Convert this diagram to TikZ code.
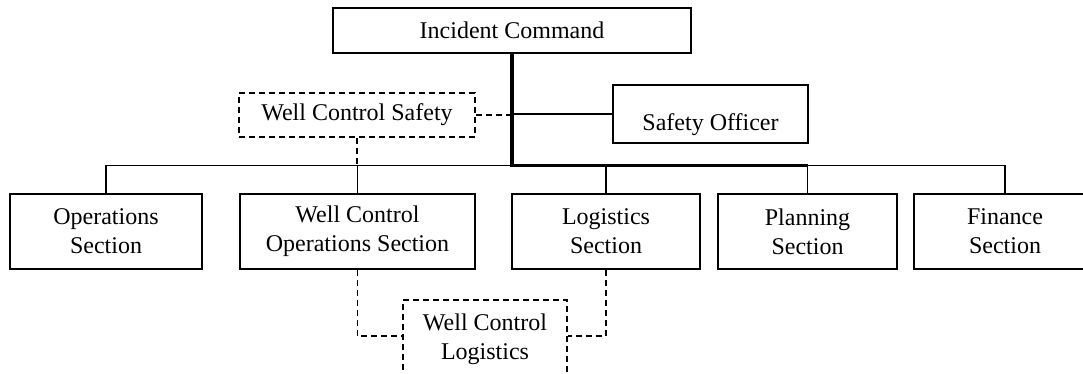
\documentclass[tikz,border=0pt]{standalone}
\usepackage{fontspec}
\setmainfont{Liberation Serif}
\begin{document}
\begin{tikzpicture}[
    x=1pt, y=-1pt,
    box/.style={draw, line width=1.5pt, align=center, inner sep=0pt, font=\fontsize{24}{29}\selectfont},
    dashbox/.style={box, dash pattern=on 6pt off 4pt},
    link/.style={line width=1.6pt},
    thicklink/.style={line width=3.2pt},
    dashlink/.style={line width=1.6pt, dash pattern=on 6pt off 4pt}
]
    \useasboundingbox (0,0) rectangle (1083,373);

    % command and staff
    \node[box, minimum width=358pt, minimum height=45pt] (ic) at (512,30.5) {Incident Command};
    \node[dashbox, minimum width=236pt, minimum height=44pt] (wcs) at (357,115) {Well Control Safety};
    \node[box, minimum width=195pt, minimum height=58pt, text height=38pt, text depth=6pt] (so) at (710.5,114) {Safety Officer};

    % sections
    \node[box, minimum width=192pt, minimum height=75pt] (ops) at (106,231.5) {Operations\\Section};
    \node[box, minimum width=235pt, minimum height=75pt] (wcos) at (357.5,231.5) {Well Control\\Operations Section};
    \node[box, minimum width=188pt, minimum height=75pt] (log) at (606,231.5) {Logistics\\Section};
    \node[box, minimum width=179pt, minimum height=75pt] (plan) at (807.5,231.5) {Planning\\Section};
    \node[box, minimum width=182pt, minimum height=75pt] (fin) at (1005,231.5) {Finance\\Section};
    \node[dashbox, minimum width=164pt, minimum height=78pt] (wcl) at (485,339) {Well Control\\Logistics};

    \coordinate (bus) at (0,165.5);
    \coordinate (lowbus) at (0,336);

    % connectors
    \draw[link] (ops.north) -- (ops.north |- bus) -- (fin.north |- bus) -- (fin.north);
    \foreach \sec in {wcos,log,plan}
        \draw[link] (\sec.north) -- (\sec.north |- bus);
    \draw[thicklink] (ic.south) -- (ic.south |- bus) -- (plan.north |- bus);
    \draw[link] (so.west) -- (so.west -| ic.south);
    \draw[dashlink] (wcs.east) -- (wcs.east -| ic.south);
    \draw[dashlink] (wcs.south) -- (wcs.south |- bus);
    \draw[dashlink] (wcos.south) -- (wcos.south |- lowbus) -- (wcl.west |- lowbus);
    \draw[dashlink] (log.south) -- (log.south |- lowbus) -- (wcl.east |- lowbus);
\end{tikzpicture}
\end{document}
